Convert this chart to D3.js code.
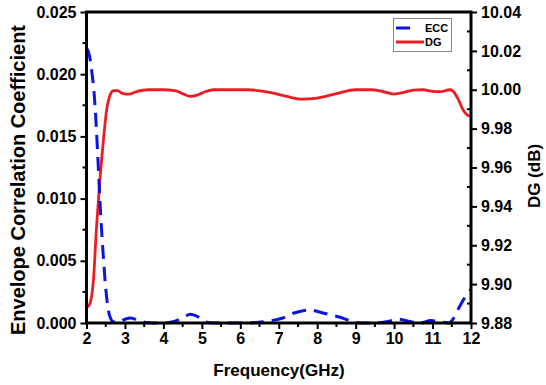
<!DOCTYPE html>
<html>
<head>
<meta charset="utf-8">
<script src="https://cdn.jsdelivr.net/npm/d3@7"></script>
<style>
  html, body { margin: 0; padding: 0; background: #fff; }
  svg { display: block; font-family: "Liberation Sans", Arial, sans-serif; font-weight: bold; }
</style>
</head>
<body>
<svg id="chart" width="546" height="385"></svg>
<script>
// Frequency sweep (GHz) and diversity gain (dB)
const freqDG = [2.00, 2.09, 2.18, 2.26, 2.35, 2.44, 2.52, 2.61, 2.70, 2.80, 2.95, 3.10, 3.30, 3.60, 4.00, 4.30, 4.50, 4.70, 4.90, 5.10, 5.30, 6.20, 6.80, 7.20, 7.60, 8.00, 8.50, 9.00, 9.40, 9.70, 10.00, 10.25, 10.50, 10.75, 11.00, 11.20, 11.45, 11.55, 11.65, 11.80, 11.92, 12.00];
const dg = [9.888, 9.890, 9.902, 9.929, 9.954, 9.974, 9.989, 9.997, 9.9995, 9.9996, 9.998, 9.9977, 9.999, 10.000, 10.000, 9.9995, 9.998, 9.9966, 9.9974, 9.9991, 10.000, 10.000, 9.9985, 9.9966, 9.9952, 9.9957, 9.998, 10.000, 10.000, 9.9991, 9.9978, 9.9986, 9.9998, 10.000, 9.9992, 9.999, 10.000, 9.999, 9.9958, 9.9895, 9.9868, 9.9866];

// Frequency sweep (GHz) and envelope correlation coefficient
const freqECC = [2.00, 2.05, 2.10, 2.15, 2.20, 2.25, 2.30, 2.35, 2.40, 2.45, 2.50, 2.55, 2.60, 2.70, 2.85, 3.00, 3.15, 3.35, 3.60, 4.00, 4.25, 4.50, 4.70, 4.90, 5.10, 5.30, 6.20, 6.60, 7.10, 7.40, 7.80, 8.15, 8.55, 8.85, 9.10, 9.50, 9.80, 10.10, 10.45, 10.70, 10.95, 11.20, 11.42, 11.55, 11.70, 11.85, 12.00];
const ecc = [0.0221, 0.0218, 0.0211, 0.0199, 0.0184, 0.0160, 0.0130, 0.0098, 0.0071, 0.0048, 0.0028, 0.0014, 0.0006, 0.0001, 0.0001, 0.0003, 0.0004, 0.0002, 0.00003, 0.0000, 0.0001, 0.0004, 0.0007, 0.0005, 0.0001, 0.0000, 0.0000, 0.0001, 0.0004, 0.0008, 0.00105, 0.0008, 0.0005, 0.0002, 0.0000, 0.0000, 0.0001, 0.0003, 0.0001, 0.0000, 0.0002, 0.0001, 0.0000, 0.0004, 0.0013, 0.0021, 0.0027];

// Tick values
const xTicks = [2, 3, 4, 5, 6, 7, 8, 9, 10, 11, 12];
const eccTicks = [0, 0.005, 0.010, 0.015, 0.020, 0.025];
const dgTicks = [9.88, 9.90, 9.92, 9.94, 9.96, 9.98, 10.00, 10.02, 10.04];

const seriesNames = ["ECC", "DG"];
const colors = { ECC: "#0a14e6", DG: "#ec1c24" };

const svg = d3.select("#chart");
const L = 86.5, R = 471, T = 12, B = 323;

const x = d3.scaleLinear().domain([2, 12]).range([L, R]);
const yL = d3.scaleLinear().domain([0, 0.025]).range([B, T]);
const yR = d3.scaleLinear().domain([9.88, 10.04]).range([B, T]);

// Curves
const lineECC = d3.line().x(d => x(d[0])).y(d => yL(d[1])).curve(d3.curveMonotoneX);
const lineDG = d3.line().x(d => x(d[0])).y(d => yR(d[1])).curve(d3.curveMonotoneX);

svg.append("path")
  .datum(d3.zip(freqDG, dg))
  .attr("d", lineDG)
  .attr("fill", "none")
  .attr("stroke", colors.DG)
  .attr("stroke-width", 2.8);

svg.append("path")
  .datum(d3.zip(freqECC, ecc))
  .attr("d", lineECC)
  .attr("fill", "none")
  .attr("stroke", colors.ECC)
  .attr("stroke-width", 3)
  .attr("stroke-dasharray", "14,8");

// Axes
function styleAxis(g) {
  g.select(".domain").remove();
  g.selectAll(".tick line").attr("stroke", "#000").attr("stroke-width", 2);
  g.selectAll(".tick text").attr("fill", "#000").attr("font-size", 16).attr("font-weight", "bold");
}

// midpoints between major ticks
function minors(step, lo, hi) {
  const out = [];
  for (let v = lo + step / 2; v < hi; v += step) out.push(v);
  return out;
}

const gx = svg.append("g").attr("transform", `translate(0,${B})`)
  .call(d3.axisBottom(x).tickValues(xTicks).tickSize(6).tickPadding(4).tickFormat(d3.format("d")));
styleAxis(gx);

const gl = svg.append("g").attr("transform", `translate(${L},0)`)
  .call(d3.axisLeft(yL).tickValues(eccTicks).tickSize(6).tickPadding(4).tickFormat(d3.format(".3f")));
styleAxis(gl);

const gr = svg.append("g").attr("transform", `translate(${R},0)`)
  .call(d3.axisRight(yR).tickValues(dgTicks).tickSize(6).tickPadding(4).tickFormat(d3.format(".2f")));
styleAxis(gr);

// minor ticks
minors(1, 2, 12).forEach(v => {
  svg.append("line").attr("x1", x(v)).attr("x2", x(v)).attr("y1", B).attr("y2", B + 4)
    .attr("stroke", "#000").attr("stroke-width", 2);
});
minors(0.005, 0, 0.025).forEach(v => {
  svg.append("line").attr("x1", L).attr("x2", L - 4).attr("y1", yL(v)).attr("y2", yL(v))
    .attr("stroke", "#000").attr("stroke-width", 2);
});
minors(0.02, 9.88, 10.04).forEach(v => {
  svg.append("line").attr("x1", R).attr("x2", R - 4).attr("y1", yR(v)).attr("y2", yR(v))
    .attr("stroke", "#000").attr("stroke-width", 2);
});

// Frame
svg.append("rect")
  .attr("x", L).attr("y", T).attr("width", R - L).attr("height", B - T)
  .attr("fill", "none").attr("stroke", "#000").attr("stroke-width", 3);

// Axis titles
svg.append("text")
  .attr("x", 279).attr("y", 376)
  .attr("text-anchor", "middle").attr("font-size", 17)
  .text("Frequency(GHz)");

svg.append("text")
  .attr("transform", "translate(25,180) rotate(-90)")
  .attr("text-anchor", "middle").attr("font-size", 20)
  .text("Envelope Correlation Coefficient");

svg.append("text")
  .attr("transform", "translate(540,176) rotate(-90)")
  .attr("text-anchor", "middle").attr("font-size", 17)
  .text("DG (dB)");

// Legend
const lg = svg.append("g");
lg.append("rect").attr("x", 393.5).attr("y", 18.5).attr("width", 58).attr("height", 33)
  .attr("fill", "#fff").attr("stroke", "#888").attr("stroke-width", 1);
seriesNames.forEach((name, i) => {
  const yy = 28 + i * 14;
  lg.append("line")
    .attr("x1", 396).attr("x2", name === "ECC" ? 410 : 424)
    .attr("y1", yy).attr("y2", yy)
    .attr("stroke", colors[name]).attr("stroke-width", 3);
  lg.append("text").attr("x", 425).attr("y", yy + 4)
    .attr("font-size", 11).text(name);
});
</script>
</body>
</html>
